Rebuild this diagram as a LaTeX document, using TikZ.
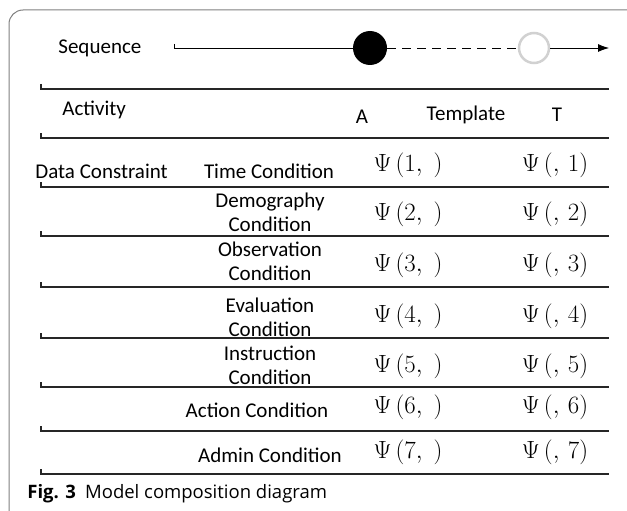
\documentclass[tikz,border=0pt]{standalone}
\usepackage{fontspec}
\setmainfont{Carlito}
\newfontfamily\capfont{Open Sans}
\usetikzlibrary{arrows.meta}

\begin{document}
\begin{tikzpicture}[
        x=1pt, y=-1pt, >={Latex[length=11pt, width=8pt]}, thick,
        rule/.style={line width=1.4pt, black!85},
        cell/.style={font=\fontsize{21}{24}\selectfont, align=center, inner sep=0pt},
        psi/.style={font=\fontsize{24}{26}\selectfont, inner sep=0pt},
    ]
    \useasboundingbox (0,0) rectangle (627,511);
    \draw[black!50, line width=1pt, rounded corners=14pt] (9,530) -- (9,10) -- (640,10);

    % sequence
    \node[cell, anchor=west] (seq) at (58,48) {Sequence};
    \coordinate (seqstart) at (174,48);
    \coordinate (seqend) at (609,48);
    \node[circle, fill=black, minimum size=34pt, inner sep=0pt] (cur) at (370,48) {};
    \node[circle, draw=black!18, line width=2.5pt, fill=white, minimum size=30pt, inner sep=0pt] (nxt) at (534,48) {};
    \draw ([yshift=4pt]seqstart) -- (seqstart) -- (cur);
    \draw[dash pattern=on 9pt off 6pt] (cur) -- (nxt);
    \draw[->] (nxt) -- (seqend);

    % rules
    \foreach \y in {89, 138, 187, 236, 287, 338, 387, 431, 474}
        \draw[rule] (41,\y-5) -- (41,\y) -- (609,\y);

    % header
    \node[cell, anchor=west] (act) at (62,110) {Activity};
    \node[cell] (colA) at (362,117) {A};
    \node[cell] (tpl) at (466,115) {Template};
    \node[cell] (colT) at (557,115) {T};

    % rows
    \node[cell, anchor=west] (dc) at (35,171) {Data Constraint};
    \foreach \k/\x/\yt/\yp/\txt in {1/269/171/165/{Time Condition},
                                    2/270/212/214/{Demography\\Condition},
                                    3/270/261/265/{Observation\\Condition},
                                    4/270/317/316/{Evaluation\\Condition},
                                    5/270/365/366/{Instruction\\Condition},
                                    6/257/410/407/{Action Condition},
                                    7/270/455/452/{Admin Condition}}
    {
        \node[cell] (cond\k) at (\x,\yt) {\txt};
        \node[psi] (pa\k) at (408,\yp) {$\Psi\,(\k,\;)$};
        \node[psi] (pt\k) at (555,\yp) {$\Psi\,(,\,\k)$};
    }

    \node[anchor=west, inner sep=0pt, font=\capfont\fontsize{18.5}{20}\selectfont] (cap) at (27,494)
        {\textbf{Fig. 3}\enspace Model composition diagram};
\end{tikzpicture}
\end{document}
